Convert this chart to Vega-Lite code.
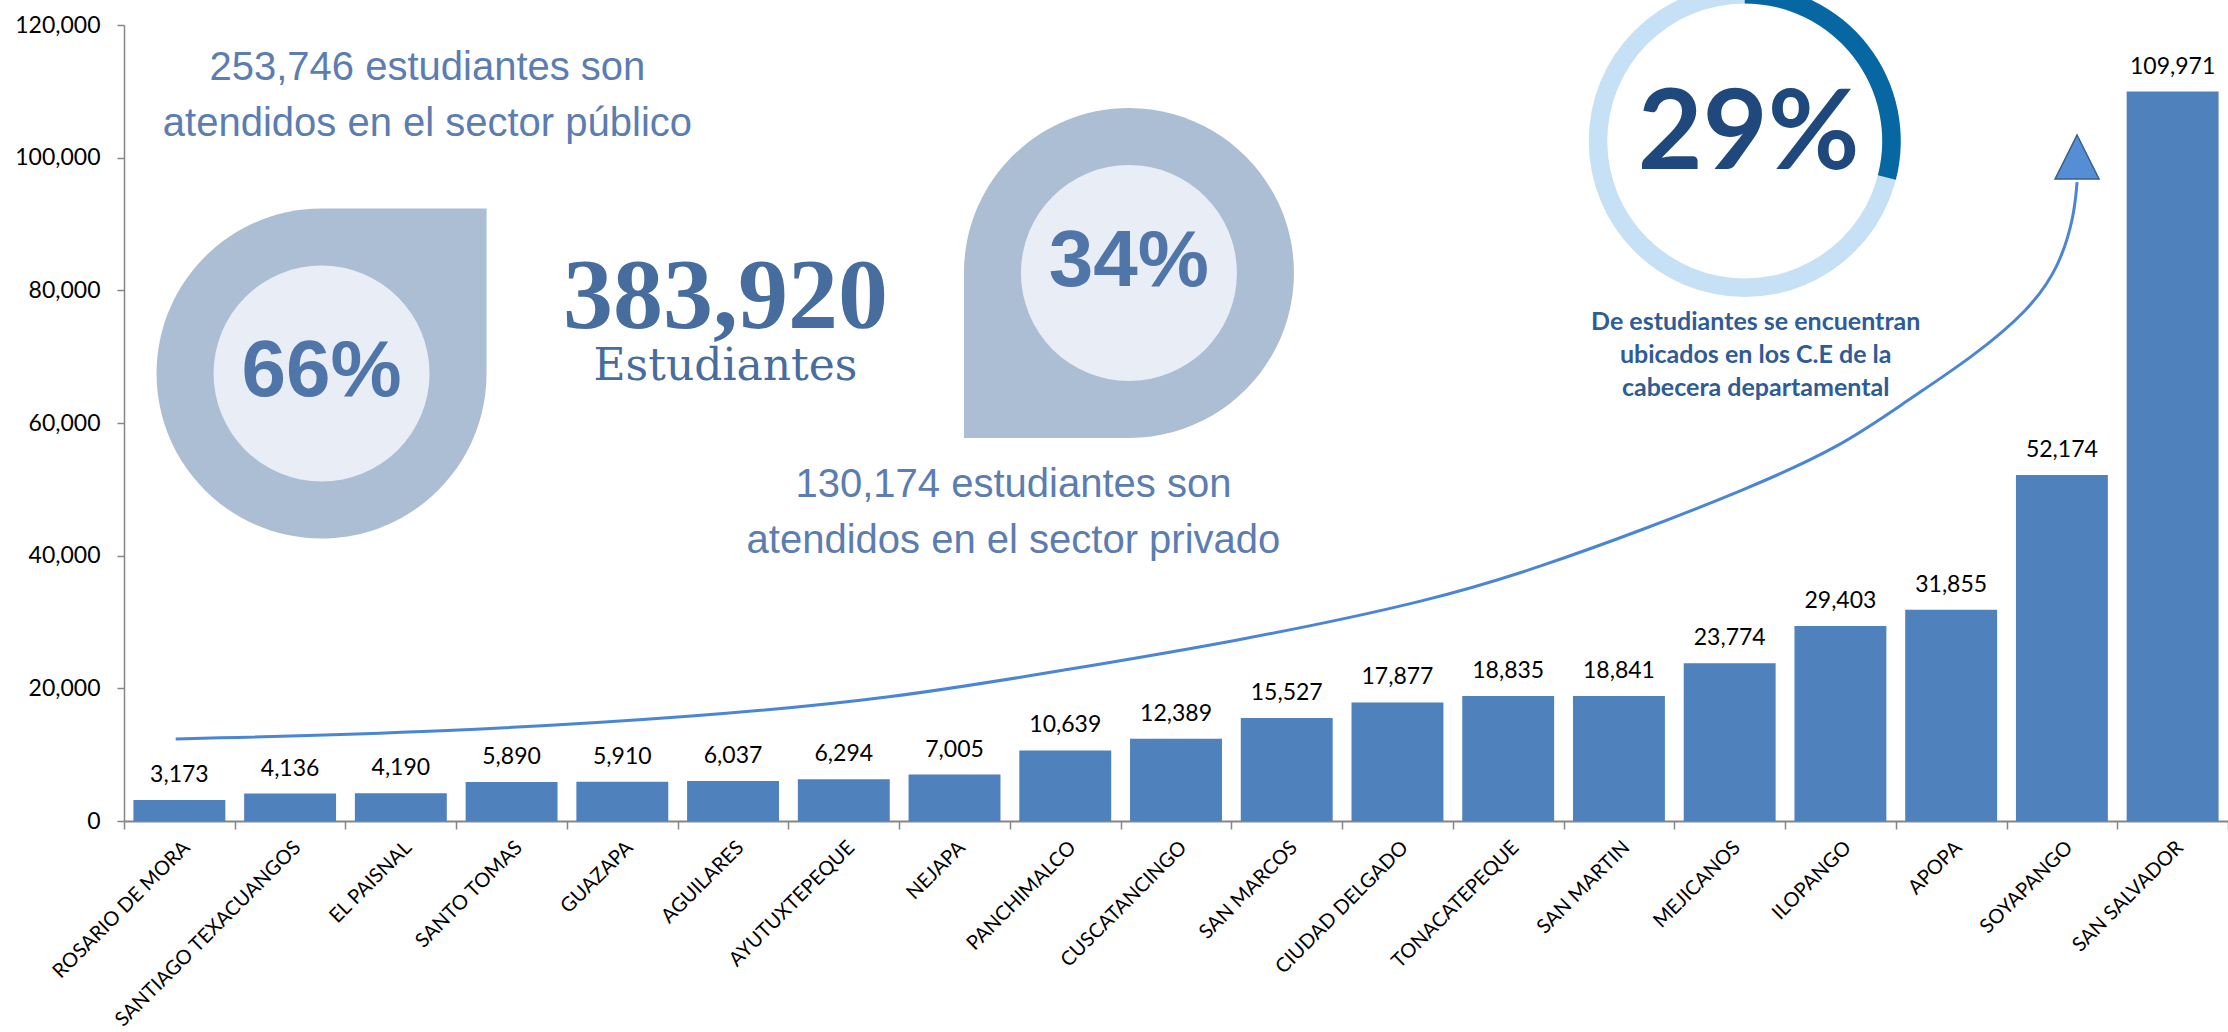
{
  "$schema": "https://vega.github.io/schema/vega-lite/v6.json",
  "width": 2104,
  "height": 796,
  "autosize": {"type": "none"},
  "padding": {"left": 124, "top": 25, "right": 0, "bottom": 211},
  "background": "#ffffff",
  "config": {
    "view": {"stroke": null},
    "font": "Lato",
    "axis": {"grid": false},
    "axisY": {
      "labelFont": "Lato", "labelFontSize": 23, "labelColor": "#000000",
      "domainColor": "#868686", "domainWidth": 1.5, "tickColor": "#868686",
      "tickWidth": 1.5, "tickSize": 7, "labelPadding": 17, "titleFontSize": 1
    }
  },
  "datasets": {
    "municipios": [
      {"municipio": "ROSARIO DE MORA", "estudiantes": 3173},
      {"municipio": "SANTIAGO TEXACUANGOS", "estudiantes": 4136},
      {"municipio": "EL PAISNAL", "estudiantes": 4190},
      {"municipio": "SANTO TOMAS", "estudiantes": 5890},
      {"municipio": "GUAZAPA", "estudiantes": 5910},
      {"municipio": "AGUILARES", "estudiantes": 6037},
      {"municipio": "AYUTUXTEPEQUE", "estudiantes": 6294},
      {"municipio": "NEJAPA", "estudiantes": 7005},
      {"municipio": "PANCHIMALCO", "estudiantes": 10639},
      {"municipio": "CUSCATANCINGO", "estudiantes": 12389},
      {"municipio": "SAN MARCOS", "estudiantes": 15527},
      {"municipio": "CIUDAD DELGADO", "estudiantes": 17877},
      {"municipio": "TONACATEPEQUE", "estudiantes": 18835},
      {"municipio": "SAN MARTIN", "estudiantes": 18841},
      {"municipio": "MEJICANOS", "estudiantes": 23774},
      {"municipio": "ILOPANGO", "estudiantes": 29403},
      {"municipio": "APOPA", "estudiantes": 31855},
      {"municipio": "SOYAPANGO", "estudiantes": 52174},
      {"municipio": "SAN SALVADOR", "estudiantes": 109971}
    ],
    "curva": [
      {"col": 0.467, "v": 12362},
      {"col": 2.893, "v": 13417},
      {"col": 5.175, "v": 15678},
      {"col": 6.972, "v": 18542},
      {"col": 8.491, "v": 22763},
      {"col": 10.018, "v": 26984},
      {"col": 11.842, "v": 33316},
      {"col": 12.812, "v": 38441},
      {"col": 13.711, "v": 43868},
      {"col": 14.609, "v": 49748},
      {"col": 15.49, "v": 56230},
      {"col": 16.11, "v": 63466},
      {"col": 16.694, "v": 69948},
      {"col": 17.205, "v": 77033},
      {"col": 17.475, "v": 83516},
      {"col": 17.61, "v": 91053},
      {"col": 17.637, "v": 96329}
    ],
    "gotas": [
      {"sector": "publico", "col": 1.784, "v": 67460, "pct": "66%", "vt": 67687},
      {"sector": "privado", "col": 9.075, "v": 82611, "pct": "34%", "vt": 84269}
    ],
    "textos": [
      {"g": "sector", "t": "253,746 estudiantes son", "col": 2.74, "v": 111706},
      {"g": "sector", "t": "atendidos en el sector público", "col": 2.74, "v": 103264},
      {"g": "sector", "t": "130,174 estudiantes son", "col": 8.032, "v": 48843},
      {"g": "sector", "t": "atendidos en el sector privado", "col": 8.032, "v": 40401},
      {"g": "total", "t": "383,920", "col": 5.431, "v": 74470},
      {"g": "totaltxt", "t": "Estudiantes", "col": 5.431, "v": 66481},
      {"g": "cab", "t": "29%", "col": 14.672, "v": 103490},
      {"g": "cabtxt", "t": "De estudiantes se encuentran", "col": 14.735, "v": 75224},
      {"g": "cabtxt", "t": "ubicados en los C.E de la", "col": 14.735, "v": 70250},
      {"g": "cabtxt", "t": "cabecera departamental", "col": 14.735, "v": 65275}
    ],
    "anillo": [
      {"parte": "total", "share": 1, "col": 14.636, "v": 102510},
      {"parte": "cabecera", "share": 0.29, "col": 14.636, "v": 102510}
    ],
    "flecha": [
      {"col": 17.637, "v": 100098}
    ]
  },
  "layer": [
    {
      "data": {"name": "municipios"},
      "layer": [
        {
          "mark": {"type": "bar", "color": "#4f81bd", "width": {"band": 0.83}},
          "encoding": {
            "x": {
              "field": "municipio", "type": "nominal", "sort": null,
              "scale": {"paddingInner": 0, "paddingOuter": 0},
              "axis": {
                "title": null, "labelAngle": -45, "labelFont": "Lato", "labelFontSize": 20,
                "labelColor": "#000000", "domainColor": "#868686", "domainWidth": 2,
                "tickColor": "#868686", "tickWidth": 1.5, "tickSize": 8, "tickBand": "extent",
                "labelPadding": 8, "labelLimit": 0
              }
            },
            "y": {
              "field": "estudiantes", "type": "quantitative", "title": null,
              "scale": {"domain": [0, 120000], "nice": false},
              "axis": {
                "title": null, "values": [0, 20000, 40000, 60000, 80000, 100000, 120000],
                "labelExpr": "format(datum.value, ',')",
                "labelFont": "Lato", "labelFontSize": 23, "labelColor": "#000000"
              }
            }
          }
        },
        {
          "mark": {"type": "text", "baseline": "alphabetic", "dy": -18, "font": "Lato", "fontSize": 23, "color": "#000000"},
          "encoding": {
            "x": {"field": "municipio", "type": "nominal", "sort": null},
            "y": {
              "field": "estudiantes", "type": "quantitative", "title": null,
              "axis": {
                "title": null, "values": [0, 20000, 40000, 60000, 80000, 100000, 120000],
                "labelExpr": "format(datum.value, ',')",
                "labelFont": "Lato", "labelFontSize": 23, "labelColor": "#000000"
              }
            },
            "text": {"field": "estudiantes", "type": "quantitative", "format": ","}
          }
        }
      ]
    },
    {
      "layer": [
        {
          "data": {"name": "gotas"},
          "transform": [{"filter": "datum.sector === 'publico'"}],
          "mark": {"type": "point", "shape": "M 0 -1 L 1 -1 L 1 0 A 1 1 0 1 1 0 -1 Z", "size": 108900, "filled": true, "opacity": 1, "color": "#abbed4", "strokeWidth": 0},
          "encoding": {
            "x": {"field": "col", "type": "quantitative", "scale": {"domain": [0, 19], "nice": false, "zero": false}, "axis": null},
            "y": {"field": "v", "type": "quantitative", "scale": {"domain": [0, 120000], "nice": false}, "axis": null, "title": null}
          }
        },
        {
          "data": {"name": "gotas"},
          "transform": [{"filter": "datum.sector === 'privado'"}],
          "mark": {"type": "point", "shape": "M 0 1 L -1 1 L -1 0 A 1 1 0 1 1 0 1 Z", "size": 108900, "filled": true, "opacity": 1, "color": "#abbed4", "strokeWidth": 0},
          "encoding": {
            "x": {"field": "col", "type": "quantitative", "axis": null},
            "y": {"field": "v", "type": "quantitative", "axis": null, "title": null}
          }
        },
        {
          "data": {"name": "gotas"},
          "mark": {"type": "point", "shape": "circle", "size": 46656, "filled": true, "opacity": 1, "color": "#e9edf5", "strokeWidth": 0},
          "encoding": {
            "x": {"field": "col", "type": "quantitative", "axis": null},
            "y": {"field": "v", "type": "quantitative", "axis": null, "title": null}
          }
        },
        {
          "data": {"name": "gotas"},
          "mark": {"type": "text", "align": "center", "baseline": "middle", "font": "Liberation Sans", "fontWeight": "bold", "fontSize": 80, "color": "#5075a8"},
          "encoding": {
            "x": {"field": "col", "type": "quantitative", "axis": null},
            "y": {"field": "vt", "type": "quantitative", "axis": null, "title": null},
            "text": {"field": "pct"}
          }
        },
        {
          "data": {"name": "textos"},
          "transform": [{"filter": "datum.g === 'sector'"}],
          "mark": {"type": "text", "align": "center", "baseline": "alphabetic", "font": "Liberation Sans", "fontSize": 40, "color": "#5b7db1"},
          "encoding": {
            "x": {"field": "col", "type": "quantitative", "axis": null},
            "y": {"field": "v", "type": "quantitative", "axis": null, "title": null},
            "text": {"field": "t"}
          }
        },
        {
          "data": {"name": "textos"},
          "transform": [{"filter": "datum.g === 'total'"}],
          "mark": {"type": "text", "align": "center", "baseline": "alphabetic", "font": "Liberation Serif", "fontWeight": "bold", "fontSize": 100, "color": "#476d9f"},
          "encoding": {
            "x": {"field": "col", "type": "quantitative", "axis": null},
            "y": {"field": "v", "type": "quantitative", "axis": null, "title": null},
            "text": {"field": "t"}
          }
        },
        {
          "data": {"name": "textos"},
          "transform": [{"filter": "datum.g === 'totaltxt'"}],
          "mark": {"type": "text", "align": "center", "baseline": "alphabetic", "font": "DejaVu Serif", "fontSize": 44, "color": "#476d9f"},
          "encoding": {
            "x": {"field": "col", "type": "quantitative", "axis": null},
            "y": {"field": "v", "type": "quantitative", "axis": null, "title": null},
            "text": {"field": "t"}
          }
        },
        {
          "data": {"name": "anillo"},
          "mark": {"type": "arc", "radius": 156, "radius2": 137.5},
          "encoding": {
            "x": {"field": "col", "type": "quantitative", "axis": null},
            "y": {"field": "v", "type": "quantitative", "axis": null, "title": null},
            "theta": {"field": "share", "type": "quantitative", "stack": null, "scale": {"domain": [0, 1], "range": [0, 6.283185307]}},
            "color": {"field": "parte", "type": "nominal", "scale": {"domain": ["total", "cabecera"], "range": ["#c6e0f5", "#0767a3"]}, "legend": null},
            "order": {"field": "share", "type": "quantitative", "sort": "descending"}
          }
        },
        {
          "data": {"name": "textos"},
          "transform": [{"filter": "datum.g === 'cab'"}],
          "mark": {"type": "text", "align": "center", "baseline": "middle", "font": "Lato", "fontWeight": "bold", "fontSize": 112, "color": "#1f497d"},
          "encoding": {
            "x": {"field": "col", "type": "quantitative", "axis": null},
            "y": {"field": "v", "type": "quantitative", "axis": null, "title": null},
            "text": {"field": "t"}
          }
        },
        {
          "data": {"name": "textos"},
          "transform": [{"filter": "datum.g === 'cabtxt'"}],
          "mark": {"type": "text", "align": "center", "baseline": "middle", "font": "Lato", "fontWeight": "bold", "fontSize": 25, "color": "#2f5b96"},
          "encoding": {
            "x": {"field": "col", "type": "quantitative", "axis": null},
            "y": {"field": "v", "type": "quantitative", "axis": null, "title": null},
            "text": {"field": "t"}
          }
        },
        {
          "data": {"name": "curva"},
          "mark": {"type": "line", "interpolate": "basis", "color": "#4a86d4", "strokeWidth": 3},
          "encoding": {
            "x": {"field": "col", "type": "quantitative", "axis": null},
            "y": {"field": "v", "type": "quantitative", "axis": null, "title": null}
          }
        },
        {
          "data": {"name": "flecha"},
          "mark": {"type": "point", "shape": "M 0 -1 L 1 1 L -1 1 Z", "size": 1936, "filled": true, "opacity": 1, "fill": "#558ed5", "stroke": "#3a5f8e", "strokeWidth": 1.5},
          "encoding": {
            "x": {"field": "col", "type": "quantitative", "axis": null},
            "y": {"field": "v", "type": "quantitative", "axis": null, "title": null}
          }
        }
      ]
    }
  ],
  "resolve": {"scale": {"x": "independent"}, "axis": {"y": "independent"}}
}
